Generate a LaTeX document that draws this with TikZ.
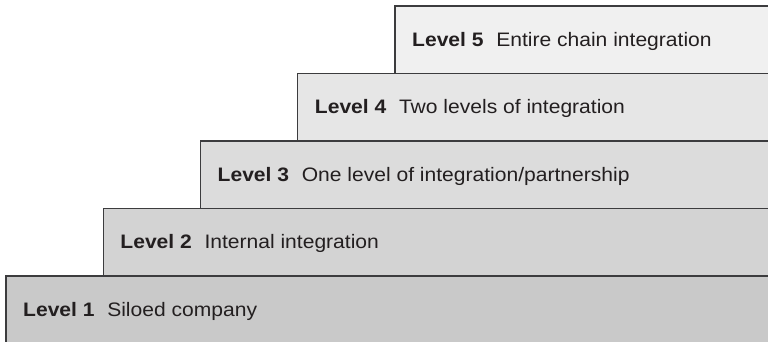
\documentclass[tikz,border=0pt]{standalone}
\usepackage{fontspec}
\setmainfont{Liberation Sans}
\definecolor{edgegray}{RGB}{60,60,62}
\definecolor{inkgray}{RGB}{35,31,32}
\tikzset{
  stair/.style = {draw = edgegray, line width = 1.1pt},
  levellabel/.style = {anchor = base west, inner sep = 0pt, text = inkgray,
    font = \fontsize{19.5}{24}\selectfont}
}
\begin{document}
\begin{tikzpicture}[x=1pt,y=1pt]
\pgfmathsetmacro\stepx{97.25};
\pgfmathsetmacro\stepy{67.5};
\useasboundingbox (0,0) rectangle (768,342);
\clip (0,0) rectangle (768,342);
\fill[white] (0,0) rectangle (768,342);
\foreach \n/\txt in {5/{Entire chain integration},4/{Two levels of integration},3/{One level of integration/partnership},2/{Internal integration},1/{Siloed company}} {
  \pgfmathsetmacro\g{0.788+0.038*(\n-1)};
  \definecolor{stepcolor}{gray}{\g}
  \coordinate (c\n) at (6+\stepx*\n-\stepx,66+\stepy*\n-\stepy);
  \fill [stepcolor] (c\n) rectangle (780,-10);
  \draw [stair] (c\n |- 0,-10) -- (c\n) -- (780,0 |- c\n);
  \node [levellabel] (l\n) at ([shift={(17,-40.5)}]c\n) {\scalebox{1.08}[1]{\textbf{Level \n}\hspace{0.6em}\txt}};
}
\end{tikzpicture}
\end{document}
